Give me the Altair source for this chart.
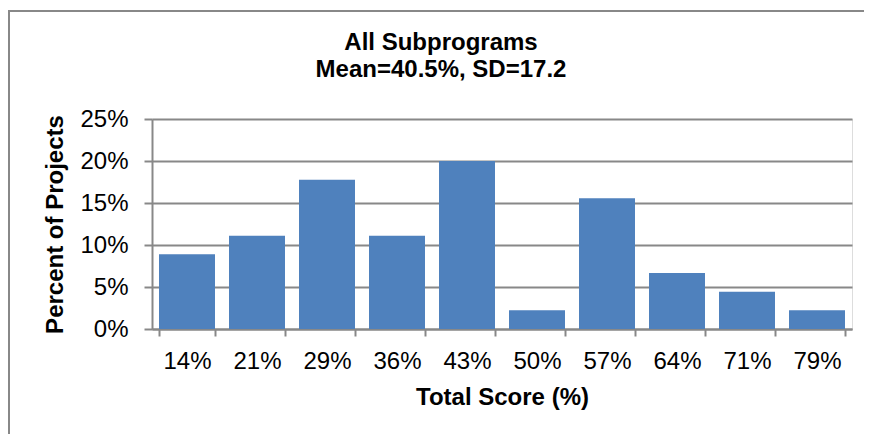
import altair as alt
import pandas as pd

categories = ["14%", "21%", "29%", "36%", "43%", "50%", "57%", "64%", "71%", "79%"]
percent_of_projects = [0.0889, 0.1111, 0.1778, 0.1111, 0.2000, 0.0222, 0.1556, 0.0667, 0.0444, 0.0222]
y_ticks = [0, 0.05, 0.10, 0.15, 0.20, 0.25]
title_lines = ["All Subprograms", "Mean=40.5%, SD=17.2"]

df = pd.DataFrame({"score": categories, "pct": percent_of_projects})

FONT = "Liberation Sans"
GRAY = "#888888"

bars = alt.Chart(df).mark_bar(color="#4F81BD").encode(
    x=alt.X(
        "score:N",
        sort=categories,
        scale=alt.Scale(paddingInner=0.2, paddingOuter=0.1),
        axis=alt.Axis(
            title="Total Score (%)",
            labelAngle=0,
            labelFontSize=24,
            labelFont=FONT,
            labelColor="#000000",
            labelPadding=13,
            tickBand="extent",
            tickSize=7,
            tickColor=GRAY,
            tickWidth=2,
            domainColor=GRAY,
            domainWidth=2,
            titleFont=FONT,
            titleFontSize=24,
            titleFontWeight="bold",
            titleColor="#000000",
            titlePadding=12,
        ),
    ),
    y=alt.Y(
        "pct:Q",
        scale=alt.Scale(domain=[0, 0.25], nice=False),
        axis=alt.Axis(
            title="Percent of Projects",
            values=y_ticks,
            format=".0%",
            labelFontSize=24,
            labelFont=FONT,
            labelColor="#000000",
            labelPadding=16,
            tickSize=8,
            tickColor=GRAY,
            tickWidth=2,
            domainColor=GRAY,
            domainWidth=2,
            grid=True,
            gridColor=GRAY,
            gridWidth=2,
            titleFont=FONT,
            titleFontSize=24,
            titleFontWeight="bold",
            titleColor="#000000",
            titlePadding=12,
        ),
    ),
)

border_left = alt.Chart(df).mark_rule(color=GRAY, strokeWidth=2).encode(
    x=alt.value(-143), y=alt.value(-108), y2=alt.value(320)
)
border_top = alt.Chart(df).mark_rule(color=GRAY, strokeWidth=2).encode(
    x=alt.value(-144), x2=alt.value(720), y=alt.value(-108)
)

chart = alt.layer(bars, border_left, border_top).properties(
    width=700,
    height=210,
    title=alt.TitleParams(
        text=title_lines,
        font=FONT,
        fontSize=24,
        fontWeight="bold",
        color="#000000",
        lineHeight=27,
        anchor="middle",
        dx=-61,
        dy=72,
        offset=0,
    ),
    autosize=alt.AutoSizeParams(type="none"),
    padding={"left": 144, "top": 111, "right": 12, "bottom": 105},
).configure_view(stroke=None).configure(background="white")

chart.save("out.html", embed_options={"renderer": "svg", "actions": False})
